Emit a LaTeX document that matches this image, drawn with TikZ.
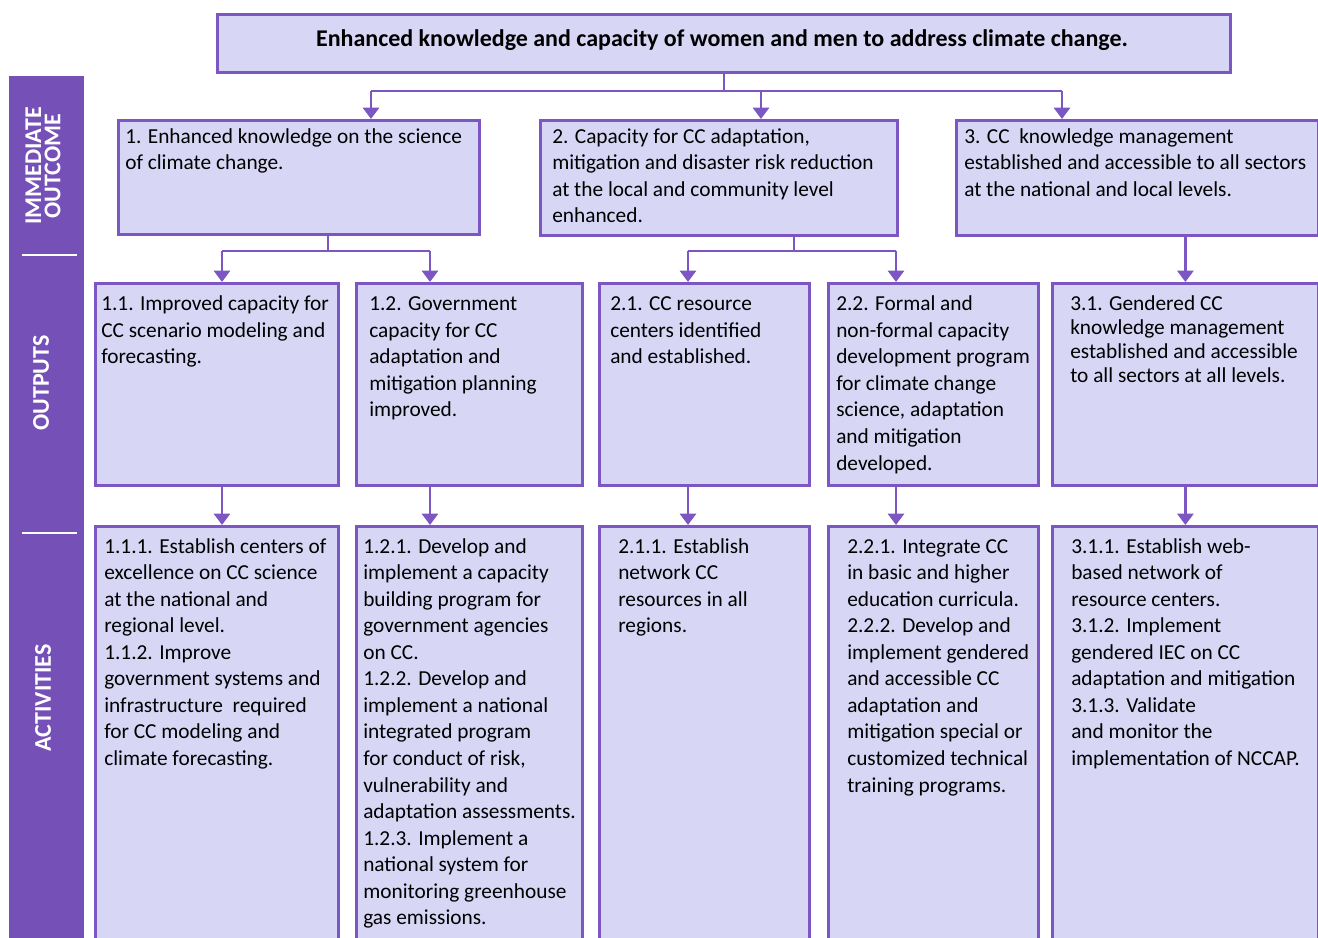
\documentclass[tikz,border=0pt]{standalone}
\usepackage{fontspec}
\setmainfont{Carlito}
\usetikzlibrary{arrows.meta}
\definecolor{boxfill}{RGB}{216,214,245}
\definecolor{boxline}{RGB}{124,86,194}
\definecolor{sidefill}{RGB}{117,80,183}
\newcommand\mkbox[5]{\node[box, minimum width={(#4-#2)*0.75pt}, minimum height={(#5-#3)*0.75pt}] (#1) at (#2,#3) {};}
\begin{document}
\begin{tikzpicture}[x=0.75pt,y=-0.75pt,
  box/.style={draw=boxline, fill=boxfill, line width=2.1pt, inner sep=0pt, anchor=north west},
  txt/.style={anchor=north west, align=left, inner sep=0pt, font=\fontsize{16}{19.9}\selectfont},
  txtb/.style={txt, font=\fontsize{16}{18}\selectfont},
  conn/.style={draw=boxline, line width=2.1pt},
  arr/.style={conn, -{Triangle[width=12pt,length=8.5pt]}},
  side/.style={text=white, font=\bfseries\fontsize{18}{14.5}\selectfont, rotate=90, align=center, inner sep=0pt}]
\useasboundingbox (0,0) rectangle (1318,938);
% sidebar
\fill[sidefill] (9,76) rectangle (84,950);
\draw[white, line width=1.8pt] (22,255) -- (77,255);
\draw[white, line width=1.8pt] (22,533) -- (77,533);
\node[side] (lio) at (43,166) {IMMEDIATE\\OUTCOME};
\node[side] (lout) at (41,383) {OUTPUTS};
\node[side] (lact) at (43,698) {ACTIVITIES};
% boxes
\mkbox{top}{216}{13}{1229}{71}
\mkbox{io1}{117}{119}{478}{233}
\mkbox{io2}{539}{119}{896}{234}
\mkbox{io3}{955}{119}{1317}{234}
\mkbox{o11}{94}{282}{337}{484}
\mkbox{o12}{355}{282}{581}{484}
\mkbox{o21}{598}{282}{808}{484}
\mkbox{o22}{827}{282}{1037}{484}
\mkbox{o31}{1051}{282}{1317}{484}
\mkbox{a11}{94}{525}{337}{960}
\mkbox{a12}{355}{525}{581}{960}
\mkbox{a21}{598}{525}{808}{960}
\mkbox{a22}{827}{525}{1037}{960}
\mkbox{a31}{1051}{525}{1317}{960}
% texts
\node[font=\bfseries\fontsize{18}{20}\selectfont, inner sep=0pt] (ttl) at (722,40.5) {Enhanced knowledge and capacity of women and men to address climate change.};
\node[txt] (tio1) at (125,124.4) {\strut 1. Enhanced knowledge on the science\\of climate change.};
\node[txt] (tio2) at (552,124.4) {\strut 2. Capacity for CC adaptation,\\mitigation and disaster risk reduction\\at the local and community level\\enhanced.};
\node[txt] (tio3) at (964,124.4) {\strut 3. CC\ \ knowledge management\\established and accessible to all sectors\\at the national and local levels.};
\node[txt] (to11) at (101,292) {\strut 1.1. Improved capacity for\\CC scenario modeling and\\forecasting.};
\node[txt] (to12) at (369,292) {\strut 1.2. Government\\capacity for CC\\adaptation and\\mitigation planning\\improved.};
\node[txt] (to21) at (610,292) {\strut 2.1. CC resource\\centers identified\\and established.};
\node[txt] (to22) at (836,292) {\strut 2.2. Formal and\\non-formal capacity\\development program\\for climate change\\science, adaptation\\and mitigation\\developed.};
\node[txtb] (to31) at (1070,293.5) {\strut 3.1. Gendered CC\\knowledge management\\established and accessible\\to all sectors at all levels.};
\node[txt] (ta11) at (104,534.4) {\strut 1.1.1. Establish centers of\\excellence on CC science\\at the national and\\regional level.\\1.1.2. Improve\\government systems and\\infrastructure\ \ required\\for CC modeling and\\climate forecasting.};
\node[txt] (ta12) at (363,534.4) {\strut 1.2.1. Develop and\\implement a capacity\\building program for\\government agencies\\on CC.\\1.2.2. Develop and\\implement a national\\integrated program\\for conduct of risk,\\vulnerability and\\adaptation assessments.\\1.2.3. Implement a\\national system for\\monitoring greenhouse\\gas emissions.};
\node[txt] (ta21) at (618,534.4) {\strut 2.1.1. Establish\\network CC\\resources in all\\regions.};
\node[txt] (ta22) at (847,534.4) {\strut 2.2.1. Integrate CC\\in basic and higher\\education curricula.\\2.2.2. Develop and\\implement gendered\\and accessible CC\\adaptation and\\mitigation special or\\customized technical\\training programs.};
\node[txt] (ta31) at (1071,534.4) {\strut 3.1.1. Establish web-\\based network of\\resource centers.\\3.1.2. Implement\\gendered IEC on CC\\adaptation and mitigation\\3.1.3. Validate\\and monitor the\\implementation of NCCAP.};
% connectors level 1
\coordinate (h1) at (371,91);
\coordinate (h2) at (761,91);
\coordinate (h3) at (1062,91);
\draw[conn] (top.south) -- (top.south |- h1);
\draw[conn] (h1) -- (h3);
\draw[arr] (h1) -- (h1 |- io1.north);
\draw[arr] (h2) -- (h2 |- io2.north);
\draw[arr] (h3) -- (h3 |- io3.north);
% connectors level 2
\coordinate (s1) at (328,251);
\coordinate (b11) at (222,251);
\coordinate (b12) at (430,251);
\coordinate (s2) at (794,251);
\coordinate (b21) at (688,251);
\coordinate (b22) at (896,251);
\draw[conn] (s1 |- io1.south) -- (s1);
\draw[conn] (b11) -- (b12);
\draw[arr] (b11) -- (b11 |- o11.north);
\draw[arr] (b12) -- (b12 |- o12.north);
\draw[conn] (s2 |- io2.south) -- (s2);
\draw[conn] (b21) -- (b22);
\draw[arr] (b21) -- (b21 |- o21.north);
\draw[arr] (b22) -- (b22 |- o22.north);
\draw[arr] (o31.north |- io3.south) -- (o31.north);
% connectors level 3
\draw[arr] (b11 |- o11.south) -- (b11 |- a11.north);
\draw[arr] (b12 |- o12.south) -- (b12 |- a12.north);
\draw[arr] (b21 |- o21.south) -- (b21 |- a21.north);
\draw[arr] (b22 |- o22.south) -- (b22 |- a22.north);
\draw[arr] (o31.south) -- (a31.north);
\end{tikzpicture}
\end{document}
